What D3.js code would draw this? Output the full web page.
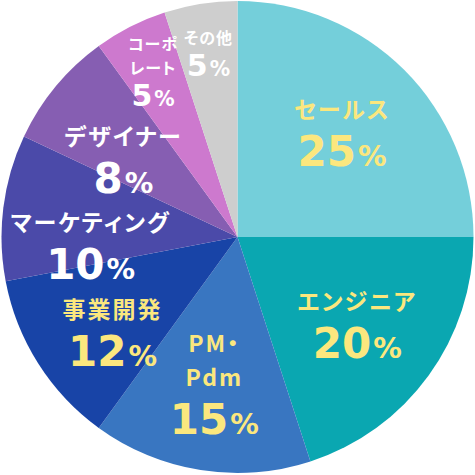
<!DOCTYPE html>
<html>
<head>
<meta charset="utf-8">
<script src="https://cdn.jsdelivr.net/npm/d3@7/dist/d3.min.js"></script>
<style>
  body { margin: 0; background: #fff; }
  .name { font-family: "Noto Sans CJK JP", sans-serif; font-weight: 700; font-feature-settings: "palt"; }
  .pct { font-family: "DejaVu Sans", sans-serif; font-weight: 700; }
</style>
</head>
<body>
<div id="chart"></div>
<script>
  // job categories, clockwise from 12 o'clock ("\n" = line break in label)
  const categories = ["セールス", "エンジニア", "PM・\nPdm", "事業開発", "マーケティング", "デザイナー", "コーポ\nレート", "その他"];
  const shares = [25, 20, 15, 12, 10, 8, 5, 5];
  const sliceColors = ["#74cfda", "#0aa7b1", "#3976c1", "#1844a7", "#4b4aa9", "#865eb2", "#cd79ce", "#cecece"];
  const textColors = ["#fbe77e", "#fbe77e", "#fbe77e", "#fbe77e", "#ffffff", "#ffffff", "#ffffff", "#ffffff"];

  const width = 475, height = 475,
    cx = 237.5, cy = 237,
    radius = 236,
    minGap = 19; //min space between stacked label blocks on the left

  const data = categories.map((c, i) => ({name: c, value: shares[i], fill: sliceColors[i], text: textColors[i]}));

  const svg = d3.select("#chart").append("svg")
      .attr("width", width)
      .attr("height", height)
      .append("g")
      .attr("transform", "translate(" + cx + "," + cy + ")");

  const pie = d3.pie().sort(null).value(d => d.value);
  const arc = d3.arc().innerRadius(0).outerRadius(radius);
  const arcs = pie(data);

  svg.selectAll(".slice")
    .data(arcs)
    .enter().append("path")
      .attr("class", "slice")
      .attr("d", arc)
      .attr("fill", d => d.data.fill);

  //big slices get big text, the thin ones sit further out
  const styleFor = v => v >= 8
    ? {r: 148, nameSize: 23, nameStep: 34, pctSize: 42, pctGap: 48, spacing: 2}
    : {r: 186, nameSize: 16, nameStep: 24, pctSize: 30, pctGap: 32, spacing: 1};

  //label blocks: centroid first, then top/bottom of the text block
  const blocks = arcs.map(d => {
    const s = styleFor(d.data.value),
      lines = d.data.name.split("\n"),
      mid = (d.startAngle + d.endAngle) / 2,
      pos = d3.arc().innerRadius(s.r).outerRadius(s.r).centroid(d),
      cap = 0.85 * s.nameSize,
      h = cap + (lines.length - 1) * s.nameStep + s.pctGap;
    return {d: d, s: s, lines: lines, mid: mid, x: pos[0], top: pos[1] - h / 2, h: h};
  });

  //left side is crowded: push blocks down so they don't run into each other
  const left = blocks.filter(b => b.mid > Math.PI * 1.15 && b.mid < Math.PI * 1.9)
    .sort((a, b) => a.top - b.top);
  left.forEach((b, i) => {
    if (i > 0) {
      const prev = left[i - 1];
      b.top = Math.max(b.top, prev.top + prev.h + minGap);
    }
  });

  blocks.forEach(b => {
    const g = svg.append("g")
      .attr("class", "label")
      .attr("fill", b.d.data.text)
      .attr("text-anchor", "middle");
    const y0 = b.top + 0.85 * b.s.nameSize;

    b.lines.forEach((line, i) => {
      g.append("text")
        .attr("class", "name")
        .attr("x", b.x)
        .attr("y", y0 + i * b.s.nameStep)
        .style("font-size", b.s.nameSize + "px")
        .style("letter-spacing", b.s.spacing + "px")
        .text(line);
    });

    const t = g.append("text")
      .attr("class", "pct")
      .attr("x", b.x)
      .attr("y", y0 + (b.lines.length - 1) * b.s.nameStep + b.s.pctGap)
      .style("font-size", b.s.pctSize + "px");
    t.append("tspan").text(b.d.data.value);
    t.append("tspan").attr("dx", 2).style("font-size", (b.s.pctSize * 0.68) + "px").text("%");
  });
</script>
</body>
</html>
